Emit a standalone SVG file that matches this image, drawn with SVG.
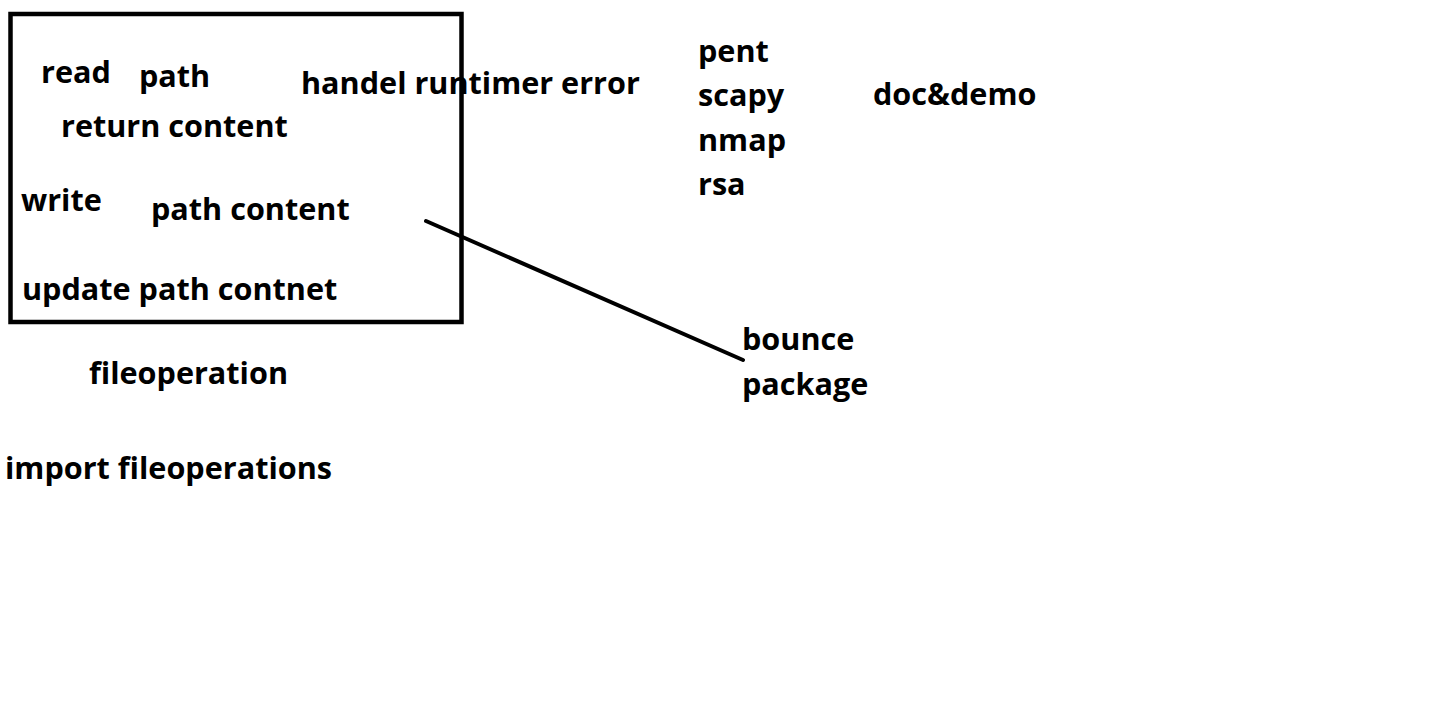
<svg xmlns="http://www.w3.org/2000/svg" width="1445" height="712" viewBox="0 0 1445 712">
<style>
  text { font-family: "Open Sans", "Liberation Sans", sans-serif; font-weight: bold; font-size: 30.6px; fill: #000; }
  .box { fill: none; stroke: #000; stroke-width: 4.5; }
  .conn { stroke: #000; stroke-width: 4; stroke-linecap: round; fill: none; }
</style>
<rect width="1445" height="712" fill="#fff"/>
<g id="fileoperation-box">
  <rect class="box" x="10.5" y="14" width="451" height="308"/>
  <text x="41" y="83">read</text>
  <text x="139" y="87">path</text>
  <text x="61" y="137">return content</text>
  <text x="21" y="211">write</text>
  <text x="151" y="220">path content</text>
  <text x="22" y="300">update path contnet</text>
</g>
<g id="handel-error"><text x="301" y="94">handel runtimer error</text></g>
<g id="fileoperation-label"><text x="89" y="384">fileoperation</text></g>
<g id="import-label"><text x="5" y="479">import fileoperations</text></g>
<g id="pent-list">
  <text x="698" y="62">pent</text>
  <text x="698" y="106">scapy</text>
  <text x="698" y="151">nmap</text>
  <text x="698" y="195">rsa</text>
</g>
<g id="doc-demo"><text x="873" y="105">doc&amp;demo</text></g>
<g id="bounce-package">
  <text x="742" y="350">bounce</text>
  <text x="742" y="395">package</text>
</g>
<g id="connectors">
  <line class="conn" x1="426" y1="221" x2="743" y2="360"/>
</g>
</svg>
